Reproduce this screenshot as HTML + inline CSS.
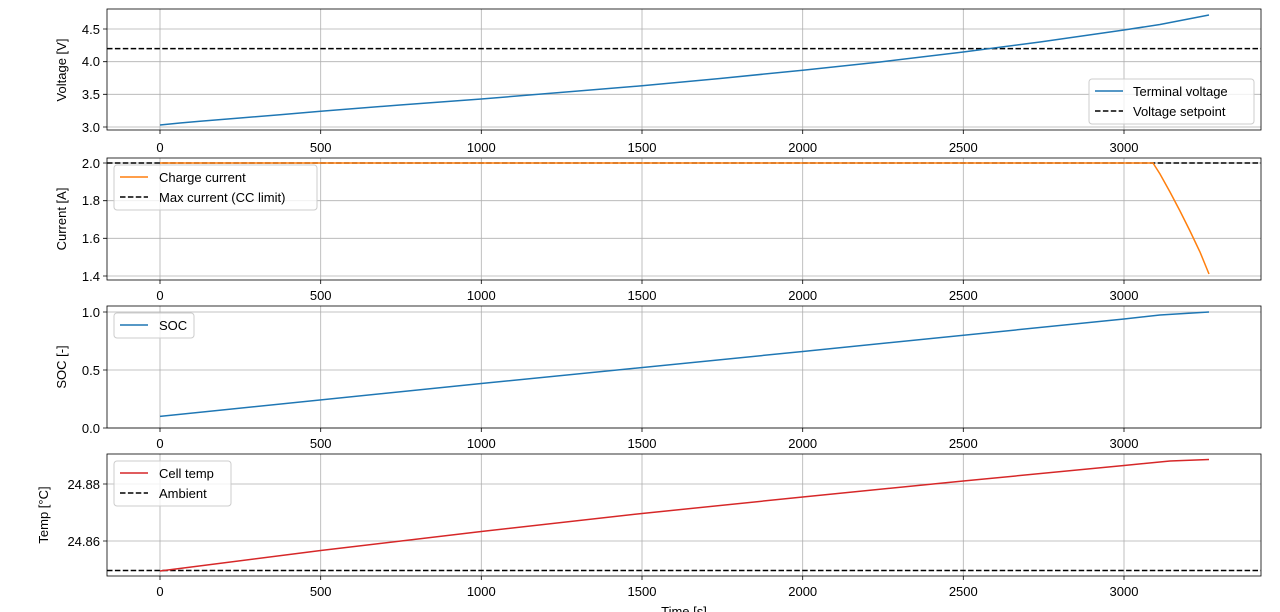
<!DOCTYPE html>
<html><head><meta charset="utf-8"><style>body{margin:0;background:#fff}svg{display:block}text{font-family:"Liberation Sans","DejaVu Sans",sans-serif;font-size:13px;fill:#000}</style></head><body>
<svg width="1280" height="612" viewBox="0 0 1280 612" xmlns="http://www.w3.org/2000/svg">
<g stroke="#b0b0b0" stroke-width="0.8">
<path d="M160 9V130M320.7 9V130M481.3 9V130M642 9V130M802.7 9V130M963.3 9V130M1124 9V130"/>
<path d="M160 158V280M320.7 158V280M481.3 158V280M642 158V280M802.7 158V280M963.3 158V280M1124 158V280"/>
<path d="M160 306V428M320.7 306V428M481.3 306V428M642 306V428M802.7 306V428M963.3 306V428M1124 306V428"/>
<path d="M160 454V576M320.7 454V576M481.3 454V576M642 454V576M802.7 454V576M963.3 454V576M1124 454V576"/>
<path d="M107 127H1261M107 94.3H1261M107 61.7H1261M107 29H1261"/>
<path d="M107 163H1261M107 200.7H1261M107 238.3H1261M107 276H1261"/>
<path d="M107 428H1261M107 370H1261M107 312H1261"/>
<path d="M107 541H1261M107 484H1261"/>
</g>
<g stroke="#000" stroke-width="0.8">
<path d="M160 130v4M320.7 130v4M481.3 130v4M642 130v4M802.7 130v4M963.3 130v4M1124 130v4"/>
<path d="M160 280v4M320.7 280v4M481.3 280v4M642 280v4M802.7 280v4M963.3 280v4M1124 280v4"/>
<path d="M160 428v4M320.7 428v4M481.3 428v4M642 428v4M802.7 428v4M963.3 428v4M1124 428v4"/>
<path d="M160 576v4M320.7 576v4M481.3 576v4M642 576v4M802.7 576v4M963.3 576v4M1124 576v4"/>
<path d="M103 127h4M103 94.3h4M103 61.7h4M103 29h4M103 163h4M103 200.7h4M103 238.3h4M103 276h4M103 428h4M103 370h4M103 312h4M103 541h4M103 484h4"/>
</g>
<g text-anchor="middle">
<text x="160" y="152">0</text><text x="320.7" y="152">500</text><text x="481.3" y="152">1000</text><text x="642" y="152">1500</text><text x="802.7" y="152">2000</text><text x="963.3" y="152">2500</text><text x="1124" y="152">3000</text>
<text x="160" y="300">0</text><text x="320.7" y="300">500</text><text x="481.3" y="300">1000</text><text x="642" y="300">1500</text><text x="802.7" y="300">2000</text><text x="963.3" y="300">2500</text><text x="1124" y="300">3000</text>
<text x="160" y="448">0</text><text x="320.7" y="448">500</text><text x="481.3" y="448">1000</text><text x="642" y="448">1500</text><text x="802.7" y="448">2000</text><text x="963.3" y="448">2500</text><text x="1124" y="448">3000</text>
<text x="160" y="596">0</text><text x="320.7" y="596">500</text><text x="481.3" y="596">1000</text><text x="642" y="596">1500</text><text x="802.7" y="596">2000</text><text x="963.3" y="596">2500</text><text x="1124" y="596">3000</text>
<text x="684" y="616">Time [s]</text>
</g>
<g text-anchor="end">
<text x="100" y="132">3.0</text><text x="100" y="99">3.5</text><text x="100" y="66">4.0</text><text x="100" y="34">4.5</text>
<text x="100" y="168">2.0</text><text x="100" y="205">1.8</text><text x="100" y="243">1.6</text><text x="100" y="281">1.4</text>
<text x="100" y="433">0.0</text><text x="100" y="375">0.5</text><text x="100" y="317">1.0</text>
<text x="100" y="546">24.86</text><text x="100" y="489">24.88</text>
</g>
<text transform="translate(66,70) rotate(-90)" text-anchor="middle">Voltage [V]</text>
<text transform="translate(66,219) rotate(-90)" text-anchor="middle">Current [A]</text>
<text transform="translate(66,367) rotate(-90)" text-anchor="middle">SOC [-]</text>
<text transform="translate(48,515) rotate(-90)" text-anchor="middle">Temp [°C]</text>
<g fill="none" stroke-width="1.5">
<line x1="107" x2="1261" y1="48.6" y2="48.6" stroke="#000" stroke-dasharray="5.5,2.4"/>
<polyline stroke="#1f77b4" points="160,125 180,123 200,121.2 240,118 280,114.7 320.7,111.3 400,105 481.3,99 560,92.5 642,85.8 720,78.5 802.7,70.2 880,62 963.3,52 1040,42 1124,30 1160,24.5 1209,15"/>
<line x1="107" x2="1261" y1="163" y2="163" stroke="#000" stroke-dasharray="5.5,2.4"/>
<polyline stroke="#ff7f0e" points="160,163 1153,163 1160,174 1170,192 1180,211 1190,231 1200,252 1209,274"/>
<polyline stroke="#1f77b4" points="160,416.4 481.3,383.5 802.7,351.5 1124,319 1160,315 1209,312"/>
<line x1="107" x2="1261" y1="570.5" y2="570.5" stroke="#000" stroke-dasharray="5.5,2.4"/>
<polyline stroke="#d62728" points="160,571 320.7,550.5 481.3,531.5 642,513.5 802.7,497 963.3,481 1124,465.5 1170,461 1209,459.5"/>
</g>
<g fill="none" stroke="#000" stroke-width="0.8">
<rect x="107" y="9" width="1154" height="121"/>
<rect x="107" y="158" width="1154" height="122"/>
<rect x="107" y="306" width="1154" height="122"/>
<rect x="107" y="454" width="1154" height="122"/>
</g>
<g>
<rect x="1089" y="79" width="165" height="45" rx="3" fill="#fff" fill-opacity="0.8" stroke="#ccc"/>
<line x1="1095" x2="1123" y1="91" y2="91" stroke="#1f77b4" stroke-width="1.5"/>
<line x1="1095" x2="1123" y1="111" y2="111" stroke="#000" stroke-width="1.5" stroke-dasharray="5.5,2.4"/>
<text x="1133" y="96">Terminal voltage</text><text x="1133" y="116">Voltage setpoint</text>
<rect x="114" y="165" width="203" height="45" rx="3" fill="#fff" fill-opacity="0.8" stroke="#ccc"/>
<line x1="120" x2="148" y1="177" y2="177" stroke="#ff7f0e" stroke-width="1.5"/>
<line x1="120" x2="148" y1="197" y2="197" stroke="#000" stroke-width="1.5" stroke-dasharray="5.5,2.4"/>
<text x="159" y="182">Charge current</text><text x="159" y="202">Max current (CC limit)</text>
<rect x="114" y="313" width="80" height="25" rx="3" fill="#fff" fill-opacity="0.8" stroke="#ccc"/>
<line x1="120" x2="148" y1="325" y2="325" stroke="#1f77b4" stroke-width="1.5"/>
<text x="159" y="330">SOC</text>
<rect x="114" y="461" width="117" height="45" rx="3" fill="#fff" fill-opacity="0.8" stroke="#ccc"/>
<line x1="120" x2="148" y1="473" y2="473" stroke="#d62728" stroke-width="1.5"/>
<line x1="120" x2="148" y1="493" y2="493" stroke="#000" stroke-width="1.5" stroke-dasharray="5.5,2.4"/>
<text x="159" y="478">Cell temp</text><text x="159" y="498">Ambient</text>
</g>
</svg>
</body></html>
